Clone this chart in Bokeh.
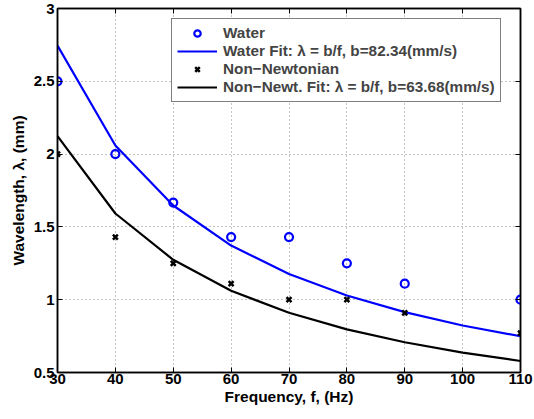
from bokeh.plotting import figure
from bokeh.models import FixedTicker, LinearAxis, Legend, LegendItem, Range1d
from bokeh.embed import file_html
from bokeh.resources import INLINE

freq = [30, 40, 50, 60, 70, 80, 90, 110]
water = [2.5, 2.0, 1.667, 1.43, 1.43, 1.25, 1.11, 1.0]
nonnewt = [2.0, 1.43, 1.25, 1.11, 1.0, 1.0, 0.91, 0.77]
fit_freq = [30, 40, 50, 60, 70, 80, 90, 100, 110]
water_fit = [2.745, 2.059, 1.647, 1.372, 1.176, 1.029, 0.915, 0.823, 0.749]
nonnewt_fit = [2.123, 1.592, 1.274, 1.061, 0.910, 0.796, 0.708, 0.637, 0.579]
x_ticks = [30, 40, 50, 60, 70, 80, 90, 100, 110]
y_ticks = [0.5, 1.0, 1.5, 2.0, 2.5, 3.0]
y_tick_labels = ["0.5", "1", "1.5", "2", "2.5", "3"]
labels = ["Water", "Water Fit: \u03bb = b/f, b=82.34(mm/s)", "Non\u2212Newtonian",
          "Non\u2212Newt. Fit: \u03bb = b/f, b=63.68(mm/s)"]

FONT = "Liberation Sans"

p = figure(width=534, height=419, output_backend="svg", toolbar_location=None,
           x_range=Range1d(30, 110), y_range=Range1d(0.5, 3),
           min_border_left=57, min_border_right=14, min_border_top=8, min_border_bottom=47)
p.background_fill_color = "white"
p.border_fill_color = "white"
p.outline_line_color = "black"
p.outline_line_width = 1.5

r_wf = p.line(fit_freq, water_fit, line_color="#0000ff", line_width=2.2)
r_nf = p.line(fit_freq, nonnewt_fit, line_color="black", line_width=2.2)
r_w = p.scatter(freq, water, marker="circle", size=8, fill_color=None,
                line_color="#0000ff", line_width=2.2)
r_n = p.scatter(freq, nonnewt, marker="x", size=7, line_color="black", line_width=2.5)

for ax in (p.xaxis[0], p.yaxis[0]):
    ax.major_label_text_font = FONT
    ax.major_label_text_font_style = "bold"
    ax.major_label_text_font_size = "15px"
    ax.major_label_text_color = "black"
    ax.axis_label_text_font = FONT
    ax.axis_label_text_font_style = "bold"
    ax.axis_label_text_font_size = "15.5px"
    ax.axis_label_text_color = "black"
    ax.major_tick_in = 5
    ax.major_tick_out = 0
    ax.minor_tick_line_color = None
    ax.axis_line_width = 1.5
    ax.major_tick_line_width = 1

p.xaxis[0].ticker = FixedTicker(ticks=x_ticks)
p.yaxis[0].ticker = FixedTicker(ticks=y_ticks)
p.yaxis[0].major_label_overrides = {t: l for t, l in zip(y_ticks, y_tick_labels)}
p.xaxis[0].axis_label = "Frequency, f, (Hz)"
p.yaxis[0].axis_label = "Wavelength, \u03bb, (mm)"
p.xaxis[0].major_label_standoff = 1
p.yaxis[0].major_label_standoff = 3
p.xaxis[0].axis_label_standoff = 1
p.yaxis[0].axis_label_standoff = 4

right = LinearAxis(ticker=FixedTicker(ticks=y_ticks), major_label_text_font_size="1px",
                   major_label_text_color=None,
                   major_tick_in=5, major_tick_out=0, minor_tick_line_color=None,
                   axis_line_width=1.5, major_label_standoff=0)
top = LinearAxis(ticker=FixedTicker(ticks=x_ticks), major_label_text_font_size="1px",
                 major_label_text_color=None,
                 major_tick_in=5, major_tick_out=0, minor_tick_line_color=None,
                 axis_line_width=1.5, major_label_standoff=0)
p.add_layout(right, "right")
p.add_layout(top, "above")

p.xgrid.ticker = FixedTicker(ticks=x_ticks)
p.ygrid.ticker = FixedTicker(ticks=y_ticks)
for g in (p.xgrid[0], p.ygrid[0]):
    g.grid_line_color = "#888888"
    g.grid_line_dash = "1 3"
    g.grid_line_width = 1

legend = Legend(items=[
    LegendItem(label=labels[0], renderers=[r_w]),
    LegendItem(label=labels[1], renderers=[r_wf]),
    LegendItem(label=labels[2], renderers=[r_n]),
    LegendItem(label=labels[3], renderers=[r_nf]),
], location=(114, 270))
legend.label_text_font = FONT
legend.label_text_font_style = "bold"
legend.label_text_font_size = "15.3px"
legend.label_height = 16
legend.glyph_width = 40
legend.glyph_height = 16
legend.spacing = 0
legend.padding = 5
legend.margin = 0
legend.label_standoff = 6
legend.border_line_color = "black"
legend.border_line_width = 1.5
legend.background_fill_alpha = 1.0
p.add_layout(legend, "center")

open("out.html", "w").write(file_html(p, INLINE))
